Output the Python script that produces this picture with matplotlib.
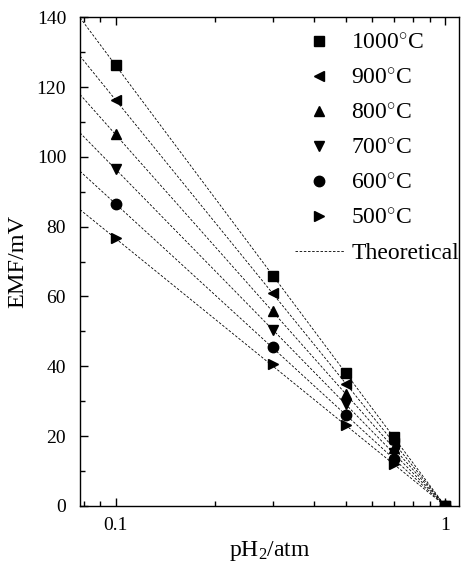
import numpy as np
import matplotlib
matplotlib.use("Agg")
import matplotlib.pyplot as plt
from matplotlib.ticker import LogLocator, NullFormatter, FixedLocator, FixedFormatter, MultipleLocator

plt.rcParams['font.family'] = ['Liberation Serif', 'DejaVu Serif']
plt.rcParams['mathtext.fontset'] = 'custom'
plt.rcParams['mathtext.rm'] = 'Liberation Serif'
plt.rcParams['mathtext.it'] = 'Liberation Serif:italic'

# hydrogen partial pressure (atm)
p_h2 = [0.1, 0.3, 0.5, 0.7, 1.0]

temps = ['1000', '900', '800', '700', '600', '500']
markers = ['s', '<', '^', 'v', 'o', '>']

# measured EMF (mV) at each pressure
emf_1000 = [126.3, 66.0, 38.0, 19.6, 0.0]
emf_900 = [116.4, 60.9, 35.0, 18.0, 0.0]
emf_800 = [106.5, 55.7, 32.0, 16.5, 0.0]
emf_700 = [96.5, 50.5, 29.1, 15.0, 0.0]
emf_600 = [86.6, 45.6, 26.1, 13.4, 0.0]
emf_500 = [76.7, 40.6, 23.1, 11.9, 0.0]
emf_all = [emf_1000, emf_900, emf_800, emf_700, emf_600, emf_500]

# theoretical lines: value at left edge of plot, reaching zero at 1 atm
theory_x = [0.078, 1.0]
theory_start = [139.9, 128.9, 117.9, 106.9, 95.9, 84.9]

fig = plt.figure(figsize=(4.61, 5.68), dpi=100)
ax = fig.add_axes([0.1735, 0.1095, 0.8215, 0.86])

for v0 in theory_start:
    ax.plot(theory_x, [v0, 0.0], color='black', lw=0.6, ls=(0, (3, 2)), zorder=1)

for t, m, emf in zip(temps, markers, emf_all):
    ax.plot(p_h2, emf, ls='none', marker=m, color='black', markersize=7.5,
            label=t + r'$^{\circ}$C', zorder=3)

ax.plot([], [], color='black', lw=0.6, ls=(0, (3, 2)), label='Theoretical')

ax.set_xscale('log')
ax.set_xlim(0.078, 1.10)
ax.set_ylim(0, 140)
ax.xaxis.set_major_locator(FixedLocator([0.1, 1.0]))
ax.xaxis.set_major_formatter(FixedFormatter(['0.1', '1']))
ax.xaxis.set_minor_locator(LogLocator(base=10, subs=np.arange(2, 10)))
ax.xaxis.set_minor_formatter(NullFormatter())
ax.yaxis.set_major_locator(MultipleLocator(20))
ax.yaxis.set_minor_locator(MultipleLocator(10))

ax.tick_params(axis='both', which='both', direction='in', labelsize=14, width=1.0)
ax.tick_params(axis='x', which='both', top=True)
ax.tick_params(axis='both', which='major', length=6)
ax.tick_params(axis='both', which='minor', length=3.5)
ax.tick_params(axis='x', which='major', pad=8)
ax.tick_params(axis='y', which='major', pad=10)
for s in ax.spines.values():
    s.set_linewidth(1.0)

ax.set_xlabel(r'pH$_2$/atm', fontsize=17, labelpad=4)
ax.set_ylabel('EMF/mV', fontsize=17.5, labelpad=6)

ax.legend(loc='upper right', frameon=False, fontsize=17, numpoints=1,
          handlelength=2.1, handletextpad=0.3, labelspacing=0.57,
          borderaxespad=0.1, bbox_to_anchor=(1.032, 0.993))

fig.savefig('out.png', dpi=100)
